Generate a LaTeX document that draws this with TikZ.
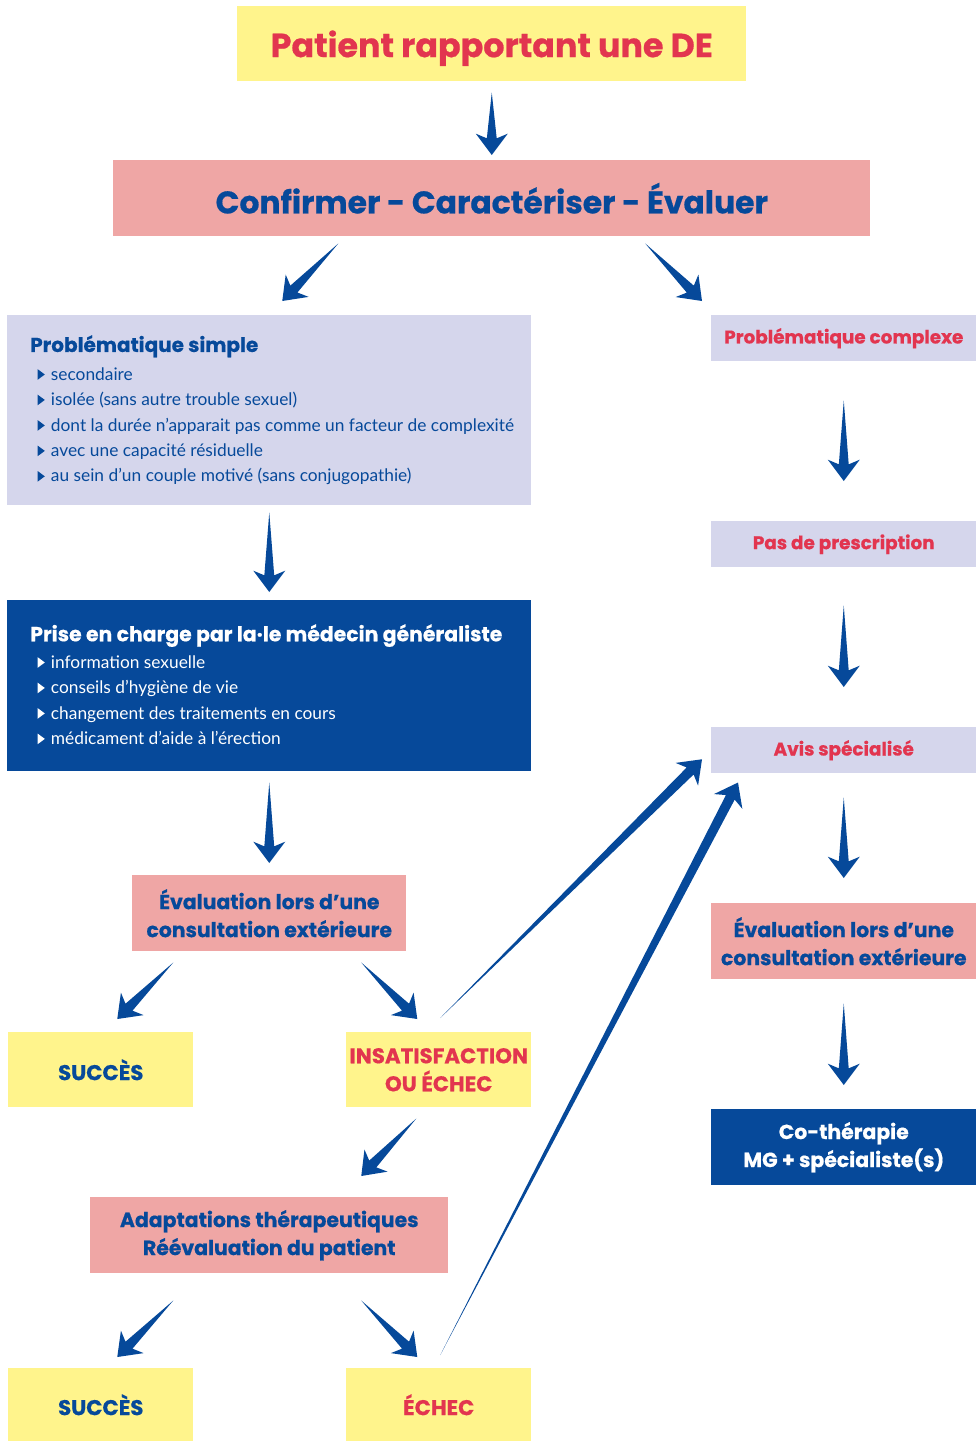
\documentclass[tikz,border=0pt]{standalone}
\usepackage{fontspec}
\setmainfont{Lato}
\newfontfamily\headf{Poppins}[BoldFeatures={FakeBold=0.6}]
\usetikzlibrary{calc}
\definecolor{dblue}{HTML}{06499A}
\definecolor{dred}{HTML}{E2354F}
\definecolor{yel}{HTML}{FFF48C}
\definecolor{pnk}{HTML}{EFA6A5}
\definecolor{lav}{HTML}{D5D6EC}
\newcommand\bul[1][dblue]{\hspace*{5.5pt}\tikz[baseline=0pt]\fill[#1] (0,0.2pt)--(0,8.2pt)--(5.4pt,4.2pt)--cycle;\hspace{4.6pt}\ignorespaces}
\newcommand\farrow[2]{%
  \coordinate (ah) at ($(#2)!16pt!(#1)$);
  \coordinate (aj) at ($(#2)!12.5pt!(#1)$);
  \fill[dblue] (#1) -- ($(aj)!3.7pt!90:(#2)$) -- ($(ah)!12pt!90:(#2)$) -- (#2)
     -- ($(ah)!12pt!-90:(#2)$) -- ($(aj)!3.7pt!-90:(#2)$) -- cycle;}
\tikzset{
  bx/.style 2 args={anchor=north west, inner sep=0pt, minimum width=#1*0.75pt, minimum height=#2*0.75pt, align=center},
  hd/.style={font=\headf\bfseries\fontsize{15.3}{21}\selectfont},
  hs/.style={font=\headf\bfseries\fontsize{13.8}{16}\selectfont},
  hc/.style={font=\headf\bfseries\fontsize{16}{21}\selectfont},
}
\begin{document}
\begin{tikzpicture}[x=0.75pt,y=-0.75pt]
\path[use as bounding box] (0,0) rectangle (978,1441);

\node[bx={509}{75}, fill=yel, text=dred, text depth=0pt, font=\headf\bfseries\fontsize{25}{28}\selectfont] (patient) at (237,6) {Patient rapportant une DE};
\node[bx={757}{76}, fill=pnk, text=dblue, font=\headf\bfseries\fontsize{23.5}{28}\selectfont] (confirm) at (113,160) {Confirmer - Caractériser - Évaluer};

\node[bx={524}{190}, fill=lav] (simple) at (7,315) {};
\node[anchor=north west, inner sep=0pt, align=left, text=dblue, font=\fontsize{13}{19.1}\selectfont] (simpletxt) at ($(simple.north west)+(23,20)$)
 {{\headf\bfseries\fontsize{15}{19}\selectfont Problématique simple}\\[2pt]
  \bul secondaire\\
  \bul isolée (sans autre trouble sexuel)\\
  \bul dont la durée n'apparait pas comme un facteur de complexité\\
  \bul avec une capacité résiduelle\\
  \bul au sein d'un couple motivé (sans conjugopathie)};

\node[bx={524}{171}, fill=dblue] (prise) at (7,600) {};
\node[anchor=north west, inner sep=0pt, align=left, text=white, font=\fontsize{13}{19.1}\selectfont] (prisetxt) at ($(prise.north west)+(23,24)$)
 {{\headf\bfseries\fontsize{15.3}{19}\selectfont Prise en charge par la·le médecin généraliste}\\[1pt]
  \bul[white] information sexuelle\\
  \bul[white] conseils d’hygiène de vie\\
  \bul[white] changement des traitements en cours\\
  \bul[white] médicament d’aide à l’érection};

\node[bx={265}{46}, fill=lav, text=dred, hs] (complexe) at (711,315) {Problématique complexe};
\node[bx={265}{46}, fill=lav, text=dred, hs] (pas) at (711,521) {Pas de prescription};
\node[bx={265}{46}, fill=lav, text=dred, hs] (avis) at (711,727) {Avis spécialisé};
\node[bx={265}{76}, fill=pnk, text=dblue, hd] (evalR) at (711,903) {Évaluation lors d’une\\consultation extérieure};
\node[bx={265}{76}, fill=dblue, text=white, hd] (co) at (711,1109) {Co-thérapie\\MG + spécialiste(s)};

\node[bx={274}{76}, fill=pnk, text=dblue, hd] (evalL) at (132,875) {Évaluation lors d’une\\consultation extérieure};
\node[bx={185}{75}, fill=yel, text=dblue, hc] (succ1) at (8,1032) {SUCCÈS};
\node[bx={185}{75}, fill=yel, text=dred, hc] (insat) at (346,1032) {INSATISFACTION\\OU ÉCHEC};
\node[bx={358}{76}, fill=pnk, text=dblue, hd] (adapt) at (90,1197) {Adaptations thérapeutiques\\Réévaluation du patient};
\node[bx={185}{73}, fill=yel, text=dblue, hc] (succ2) at (8,1368) {SUCCÈS};
\node[bx={185}{73}, fill=yel, text=dred, hc] (echec) at (346,1368) {ÉCHEC};

% arrow end points
\coordinate (aS) at ($(patient.south)+(0,11)$);   \coordinate (aE) at ($(confirm.north)+(0,-5)$);
\coordinate (bS) at ($(confirm.south)+(-153.5,7)$); \coordinate (bE) at ($(simple.north)+(13,-14)$);
\coordinate (cS) at ($(confirm.south)+(153.5,7)$);  \coordinate (cE) at ($(complexe.north west)+(-9,-14)$);
\coordinate (dS) at ($(simple.south)+(0,7)$);     \coordinate (dE) at ($(prise.north)+(0,-8)$);
\coordinate (eS) at ($(complexe.south)+(0,39)$);  \coordinate (eE) at ($(pas.north)+(0,-40)$);
\coordinate (fS) at ($(pas.south)+(0,38)$);       \coordinate (fE) at ($(avis.north)+(0,-40)$);
\coordinate (gS) at ($(avis.south)+(0,24)$);      \coordinate (gE) at ($(evalR.north)+(0,-25)$);
\coordinate (hS) at ($(evalR.south)+(0,24)$);     \coordinate (hE) at ($(co.north)+(0,-24)$);
\coordinate (iS) at ($(prise.south)+(0,11)$);     \coordinate (iE) at ($(evalL.north)+(0,-12)$);
\coordinate (jS) at ($(evalL.south)+(-96,11)$);   \coordinate (jE) at ($(succ1.north)+(16.5,-13)$);
\coordinate (kS) at ($(evalL.south)+(92,11)$);    \coordinate (kE) at ($(insat.north)+(-21.5,-13)$);
\coordinate (lS) at ($(insat.north)+(1.5,-14)$);  \coordinate (lE) at ($(avis.west)+(-9,9)$);
\coordinate (mS) at ($(insat.south)+(-22.5,11)$); \coordinate (mE) at ($(adapt.north)+(92,-21)$);
\coordinate (nS) at ($(adapt.south)+(-96,27)$);   \coordinate (nE) at ($(succ2.north)+(16.5,-11)$);
\coordinate (oS) at ($(adapt.south)+(92,27)$);    \coordinate (oE) at ($(echec.north)+(-21.5,-11)$);
\coordinate (pS) at ($(echec.north)+(1.5,-13)$);  \coordinate (pE) at ($(avis.south west)+(27,9)$);

\farrow{aS}{aE}
\farrow{bS}{bE}
\farrow{cS}{cE}
\farrow{dS}{dE}
\farrow{eS}{eE}
\farrow{fS}{fE}
\farrow{gS}{gE}
\farrow{hS}{hE}
\farrow{iS}{iE}
\farrow{jS}{jE}
\farrow{kS}{kE}
\farrow{lS}{lE}
\farrow{mS}{mE}
\farrow{nS}{nE}
\farrow{oS}{oE}
\farrow{pS}{pE}
\end{tikzpicture}
\end{document}
